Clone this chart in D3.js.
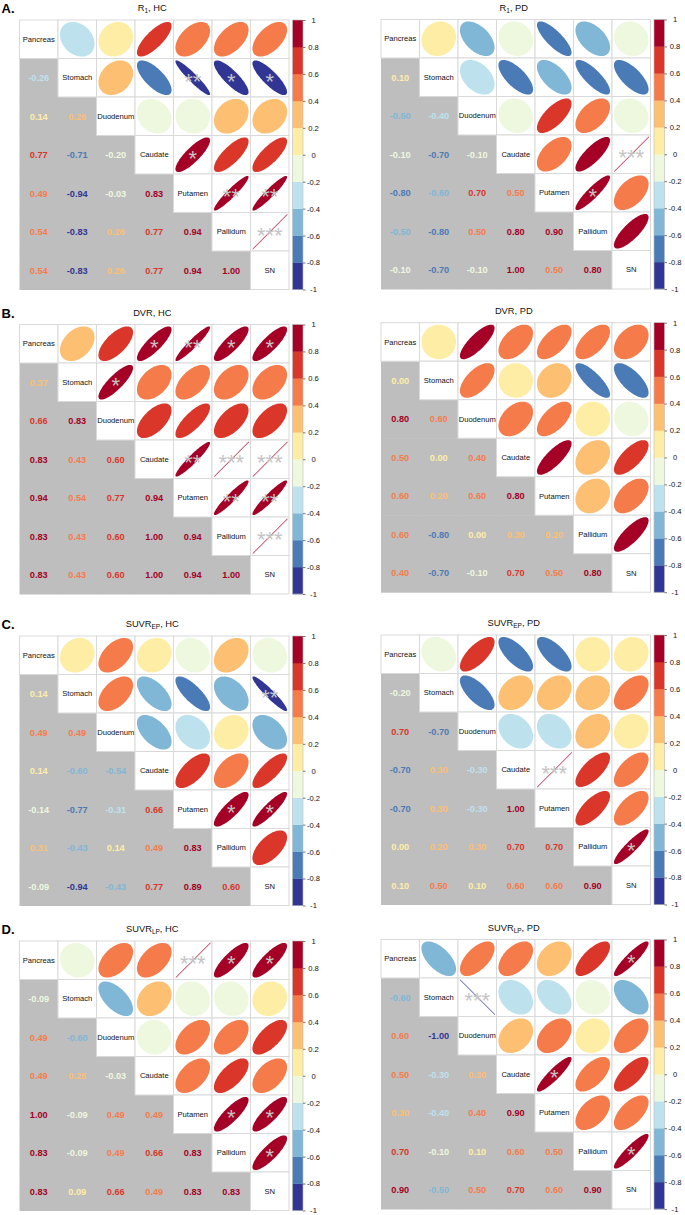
<!DOCTYPE html>
<html><head><meta charset="utf-8">
<script src="https://cdn.jsdelivr.net/npm/d3@7"></script>
<style>body{margin:0;background:#fff}svg{display:block;font-family:"Liberation Sans",Arial,sans-serif}</style>
</head><body><svg id="c" width="685" height="1215"></svg>
<script>
// ---------- data ----------
const variables = ["Pancreas","Stomach","Duodenum","Caudate","Putamen","Pallidum","SN"];
const legendTicks = [-1,-0.8,-0.6,-0.4,-0.2,0,0.2,0.4,0.6,0.8,1];
const legendTickLabels = ["-1","-0.8","-0.6","-0.4","-0.2","0","0.2","0.4","0.6","0.8","1"];
const palette = ["#313695","#4A7BB7","#80B7D6","#BDE2EE","#EEF8DF","#FEEEA5","#FDBF71","#F67B4A","#DA372A","#A50026"];
const hcBreaks = [-0.8,-0.6,-0.4,-0.2,0,0.2,0.4,0.6,0.8];
const pdBreaks = [-0.8,-0.6,-0.4,-0.2,0,0.2,0.4,0.6000001,0.8];

// lower-triangle rows (row i holds correlations with variables 0..i-1)
const r1HC = [[-0.26],[0.14,0.26],[0.77,-0.71,-0.20],[0.49,-0.94,-0.03,0.83],[0.54,-0.83,0.26,0.77,0.94],[0.54,-0.83,0.26,0.77,0.94,1.00]];
const r1HCStars = [["Stomach","Putamen","**"],["Stomach","Pallidum","*"],["Stomach","SN","*"],["Caudate","Putamen","*"],["Putamen","Pallidum","**"],["Putamen","SN","**"],["Pallidum","SN","***"]];
const r1PD = [[0.10],[-0.50,-0.40],[-0.10,-0.70,-0.10],[-0.80,-0.60,0.70,0.50],[-0.50,-0.80,0.50,0.80,0.90],[-0.10,-0.70,-0.10,1.00,0.50,0.80]];
const r1PDStars = [["Caudate","SN","***"],["Putamen","Pallidum","*"]];
const dvrHC = [[0.37],[0.66,0.83],[0.83,0.43,0.60],[0.94,0.54,0.77,0.94],[0.83,0.43,0.60,1.00,0.94],[0.83,0.43,0.60,1.00,0.94,1.00]];
const dvrHCStars = [["Pancreas","Caudate","*"],["Pancreas","Putamen","**"],["Pancreas","Pallidum","*"],["Pancreas","SN","*"],["Stomach","Duodenum","*"],["Caudate","Putamen","**"],["Caudate","Pallidum","***"],["Caudate","SN","***"],["Putamen","Pallidum","**"],["Putamen","SN","**"],["Pallidum","SN","***"]];
const dvrPD = [[0.00],[0.80,0.60],[0.50,0.00,0.40],[0.60,0.20,0.60,0.80],[0.60,-0.80,0.00,0.30,0.20],[0.40,-0.70,-0.10,0.70,0.50,0.80]];
const dvrPDStars = [];
const suvrEpHC = [[0.14],[0.49,0.49],[0.14,-0.60,-0.54],[-0.14,-0.77,-0.31,0.66],[0.31,-0.43,0.14,0.49,0.83],[-0.09,-0.94,-0.43,0.77,0.89,0.60]];
const suvrEpHCStars = [["Stomach","SN","**"],["Putamen","Pallidum","*"],["Putamen","SN","*"]];
const suvrEpPD = [[-0.20],[0.70,-0.70],[-0.70,0.30,-0.30],[-0.70,0.30,-0.30,1.00],[0.00,0.20,0.30,0.70,0.70],[0.10,0.50,0.10,0.60,0.60,0.90]];
const suvrEpPDStars = [["Caudate","Putamen","***"],["Pallidum","SN","*"]];
const suvrLpHC = [[-0.09],[0.49,-0.60],[0.49,0.26,-0.03],[1.00,-0.09,0.49,0.49],[0.83,-0.09,0.49,0.66,0.83],[0.83,0.09,0.66,0.49,0.83,0.83]];
const suvrLpHCStars = [["Pancreas","Putamen","***"],["Pancreas","Pallidum","*"],["Pancreas","SN","*"],["Putamen","Pallidum","*"],["Putamen","SN","*"],["Pallidum","SN","*"]];
const suvrLpPD = [[-0.60],[0.60,-1.00],[0.50,-0.30,0.30],[0.30,-0.40,0.40,0.90],[0.70,-0.10,0.10,0.60,0.50],[0.90,-0.50,0.50,0.70,0.60,0.90]];
const suvrLpPDStars = [["Pancreas","SN","*"],["Stomach","Duodenum","***"],["Caudate","Putamen","*"],["Pallidum","SN","*"]];

const panels = [
  {letter:"A.", title:["R","1",", HC"], lower:r1HC, stars:r1HCStars, breaks:hcBreaks, c:0, r:0},
  {letter:null, title:["R","1",", PD"], lower:r1PD, stars:r1PDStars, breaks:pdBreaks, c:1, r:0},
  {letter:"B.", title:["DVR","",", HC"], lower:dvrHC, stars:dvrHCStars, breaks:hcBreaks, c:0, r:1},
  {letter:null, title:["DVR","",", PD"], lower:dvrPD, stars:dvrPDStars, breaks:pdBreaks, c:1, r:1},
  {letter:"C.", title:["SUVR","EP",", HC"], lower:suvrEpHC, stars:suvrEpHCStars, breaks:hcBreaks, c:0, r:2},
  {letter:null, title:["SUVR","EP",", PD"], lower:suvrEpPD, stars:suvrEpPDStars, breaks:pdBreaks, c:1, r:2},
  {letter:"D.", title:["SUVR","LP",", HC"], lower:suvrLpHC, stars:suvrLpHCStars, breaks:hcBreaks, c:0, r:3},
  {letter:null, title:["SUVR","LP",", PD"], lower:suvrLpPD, stars:suvrLpPDStars, breaks:pdBreaks, c:1, r:3}
];

// ---------- layout ----------
const CELL = 38.5;
const colX = [19.5, 381];
const rowTop = [[20, 19.5],[324.5, 322.7],[636, 635],[941, 939.5]];
const svg = d3.select("#c");

panels.forEach(p => {
  const x0 = colX[p.c], y0 = rowTop[p.r][p.c];
  const n = variables.length;
  const x = d3.scaleBand().domain(variables).range([x0, x0 + n*CELL]);
  const y = d3.scaleBand().domain(variables).range([y0, y0 + n*CELL]);
  const color = d3.scaleThreshold().domain(p.breaks).range(palette);
  const val = (i,j) => i===j ? 1 : (i>j ? p.lower[i-1][j] : p.lower[j-1][i]);
  const cells = [];
  for (let i=0;i<n;i++) for (let j=0;j<n;j++) cells.push({i,j,v:val(i,j)});
  const g = svg.append("g");

  // lower gray background
  g.selectAll("rect.low").data(cells.filter(d=>d.i>d.j)).join("rect")
    .attr("x", d=>x(variables[d.j])).attr("y", d=>y(variables[d.i]))
    .attr("width", x.bandwidth()+0.5).attr("height", y.bandwidth()+0.5)
    .attr("fill", "#BEBEBE");
  // upper + diagonal white cells with grid
  g.selectAll("rect.up").data(cells.filter(d=>d.i<=d.j)).join("rect")
    .attr("x", d=>x(variables[d.j])).attr("y", d=>y(variables[d.i]))
    .attr("width", x.bandwidth()).attr("height", y.bandwidth())
    .attr("fill", "#fff").attr("stroke", "#D9D9D9").attr("stroke-width", 1);

  // ellipses (|r| < 1) and degenerate thin lines (|r| = 1)
  const line = d3.line().curve(d3.curveLinearClosed);
  const ks = d3.range(0, 100).map(t => t/100*2*Math.PI);
  const upper = cells.filter(d=>d.i<d.j);
  const s = 0.9 * x.bandwidth();
  const cxOf = d => x(variables[d.j]) + x.bandwidth()/2;
  const cyOf = d => y(variables[d.i]) + y.bandwidth()/2;
  g.selectAll("path.ell").data(upper).join("path")
    .attr("d", d => {
      const cx = cxOf(d), cy = cyOf(d);
      if (Math.abs(d.v) < 1) {
        const a = Math.acos(d.v);
        return line(ks.map(k => [cx + Math.cos(k + a/2)/2*s, cy - Math.cos(k - a/2)/2*s]));
      }
      const sg = Math.sign(d.v), h = s/2, w = 0.6, o = 0.3;
      // thin parallelogram along the degenerate ellipse axis
      return line([[cx - h + o, cy + sg*h - w], [cx + h + o, cy - sg*h - w], [cx + h + o, cy - sg*h + w], [cx - h + o, cy + sg*h + w]]);
    })
    .attr("fill", d=>color(d.v))
    .attr("fill-opacity", d=>Math.abs(d.v)>=1 ? 0.7 : 1);

  // significance stars
  g.selectAll("text.star").data(p.stars).join("text")
    .attr("x", d=>x(d[1]) + x.bandwidth()/2)
    .attr("y", d=>y(d[0]) + y.bandwidth()/2 + 11)
    .attr("text-anchor","middle").attr("font-size", 22).attr("fill", "#C4C4C4")
    .text(d=>d[2]);

  // numbers (lower)
  g.selectAll("text.num").data(cells.filter(d=>d.i>d.j)).join("text")
    .attr("x", d=>x(variables[d.j]) + x.bandwidth()/2)
    .attr("y", d=>y(variables[d.i]) + y.bandwidth()/2 + 3.3)
    .attr("text-anchor","middle").attr("font-size", 9.2).attr("font-weight","bold")
    .attr("fill", d=>color(d.v))
    .text(d=>d.v.toFixed(2));

  // diagonal labels
  g.selectAll("text.lab").data(variables).join("text")
    .attr("x", d=>x(d) + x.bandwidth()/2)
    .attr("y", d=>y(d) + y.bandwidth()/2 + 2.7)
    .attr("text-anchor","middle").attr("font-size", 7.6).attr("fill", "#111")
    .text(d=>d);

  // colour legend
  const bx = x0 + n*CELL + 3.5, bw = 10.5;
  const ly = d3.scaleLinear().domain([-1,1]).range([y0 + n*CELL, y0]);
  const bins = palette.map((c,k)=>({c, lo:-1+k*0.2, hi:-1+(k+1)*0.2}));
  g.selectAll("rect.bin").data(bins).join("rect")
    .attr("x", bx).attr("width", bw)
    .attr("y", d=>ly(d.hi)).attr("height", d=>ly(d.lo)-ly(d.hi)+0.3)
    .attr("fill", d=>d.c);
  g.append("rect").attr("x", bx).attr("y", y0).attr("width", bw).attr("height", n*CELL)
    .attr("fill","none").attr("stroke","#BBBBBB").attr("stroke-width",0.6);
  const ax = g.append("g").attr("transform", `translate(${bx+bw},0)`)
    .call(d3.axisRight(ly).tickValues(legendTicks).tickSize(2.5)
      .tickFormat((d,i)=>legendTickLabels[i]));
  ax.select(".domain").remove();
  ax.selectAll(".tick line").attr("stroke","#555").attr("stroke-width",0.8);
  ax.selectAll(".tick text").attr("x", 10.5).attr("text-anchor","middle")
    .attr("font-size", 7.6).attr("font-family",'"Liberation Sans",Arial,sans-serif').attr("fill","#111");

  // title
  const t = g.append("text").attr("x", x0 + n*CELL/2 - 2).attr("y", y0 - 9)
    .attr("text-anchor","middle").attr("font-size", 9.3).attr("fill","#111");
  t.append("tspan").text(p.title[0]);
  if (p.title[1]) t.append("tspan").attr("font-size", 6.5).attr("dy", 2.2).text(p.title[1]);
  t.append("tspan").attr("dy", p.title[1] ? -2.2 : 0).text(p.title[2]);

  if (p.letter) g.append("text").attr("x", 1.5).attr("y", y0 - 6.6)
    .attr("font-size", 13).attr("font-weight","bold").attr("fill","#000").text(p.letter);
});
</script></body></html>
